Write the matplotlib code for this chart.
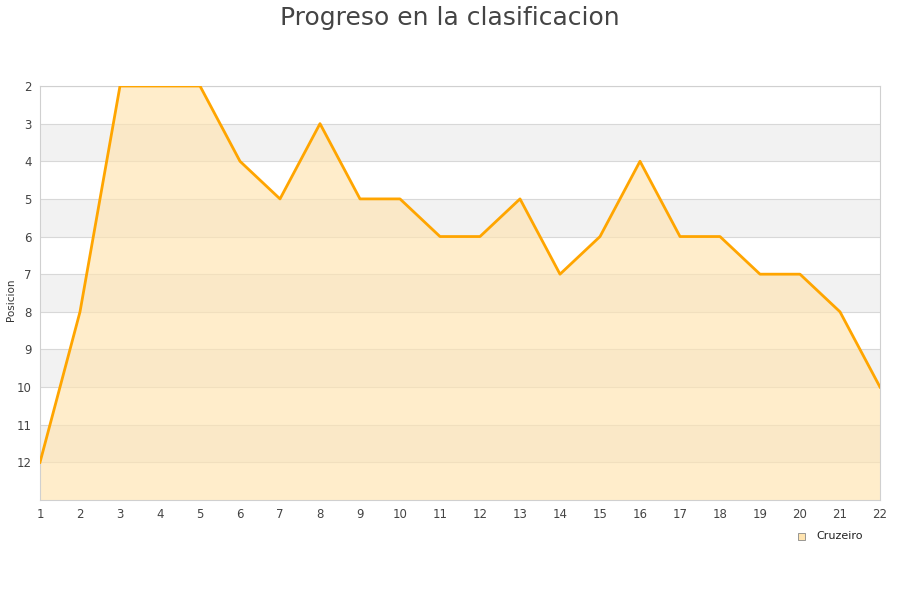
import matplotlib
matplotlib.use("Agg")
import matplotlib.pyplot as plt
from matplotlib.patches import Rectangle

jornadas = list(range(1, 23))
posicion = [12, 8, 2, 2, 2, 4, 5, 3, 5, 5, 6, 6, 5, 7, 6, 4, 6, 6, 7, 7, 8, 10]
y_ticks = list(range(2, 13))

fig = plt.figure(figsize=(9, 6), dpi=100)
ax = fig.add_axes([40 / 900, 100 / 600, 840 / 900, 414 / 600])

# alternating bands
for k in range(2, 13):
    color = "#f2f2f2" if k % 2 == 1 else "white"
    ax.axhspan(k, k + 1, color=color, zorder=0, lw=0)

for k in y_ticks:
    ax.axhline(k, color="#d8d8d8", lw=0.8, zorder=0.5)

ax.fill_between(jornadas, posicion, 13, color="#ffe4b0", alpha=0.65, zorder=1, lw=0)
ax.plot(jornadas, posicion, color="#ffa500", lw=2, zorder=3)

ax.set_xlim(1, 22)
ax.set_ylim(13, 2)
ax.set_xticks(jornadas)
ax.set_yticks(y_ticks)
ax.tick_params(length=0, labelsize=8.5, colors="#444444", pad=6)
for s in ax.spines.values():
    s.set_color("#d0d0d0")
    s.set_linewidth(0.8)

fig.text(11 / 900, 0.5, "Posicion", rotation=90, fontsize=7.5,
         color="#333333", ha="center", va="center")

fig.text(0.5, 0.99, "Progreso en la clasificacion", ha="center", va="top",
         fontsize=18, color="#444444")

# legend
fig.patches.append(Rectangle((798 / 900, 1 - 540 / 600), 7 / 900, 7 / 600,
                             transform=fig.transFigure, facecolor="#ffe4b0",
                             edgecolor="#888888", lw=0.6))
fig.text(816 / 900, 1 - 536 / 600, "Cruzeiro", fontsize=8, va="center", color="#222222")

fig.savefig("out.png", dpi=100)
